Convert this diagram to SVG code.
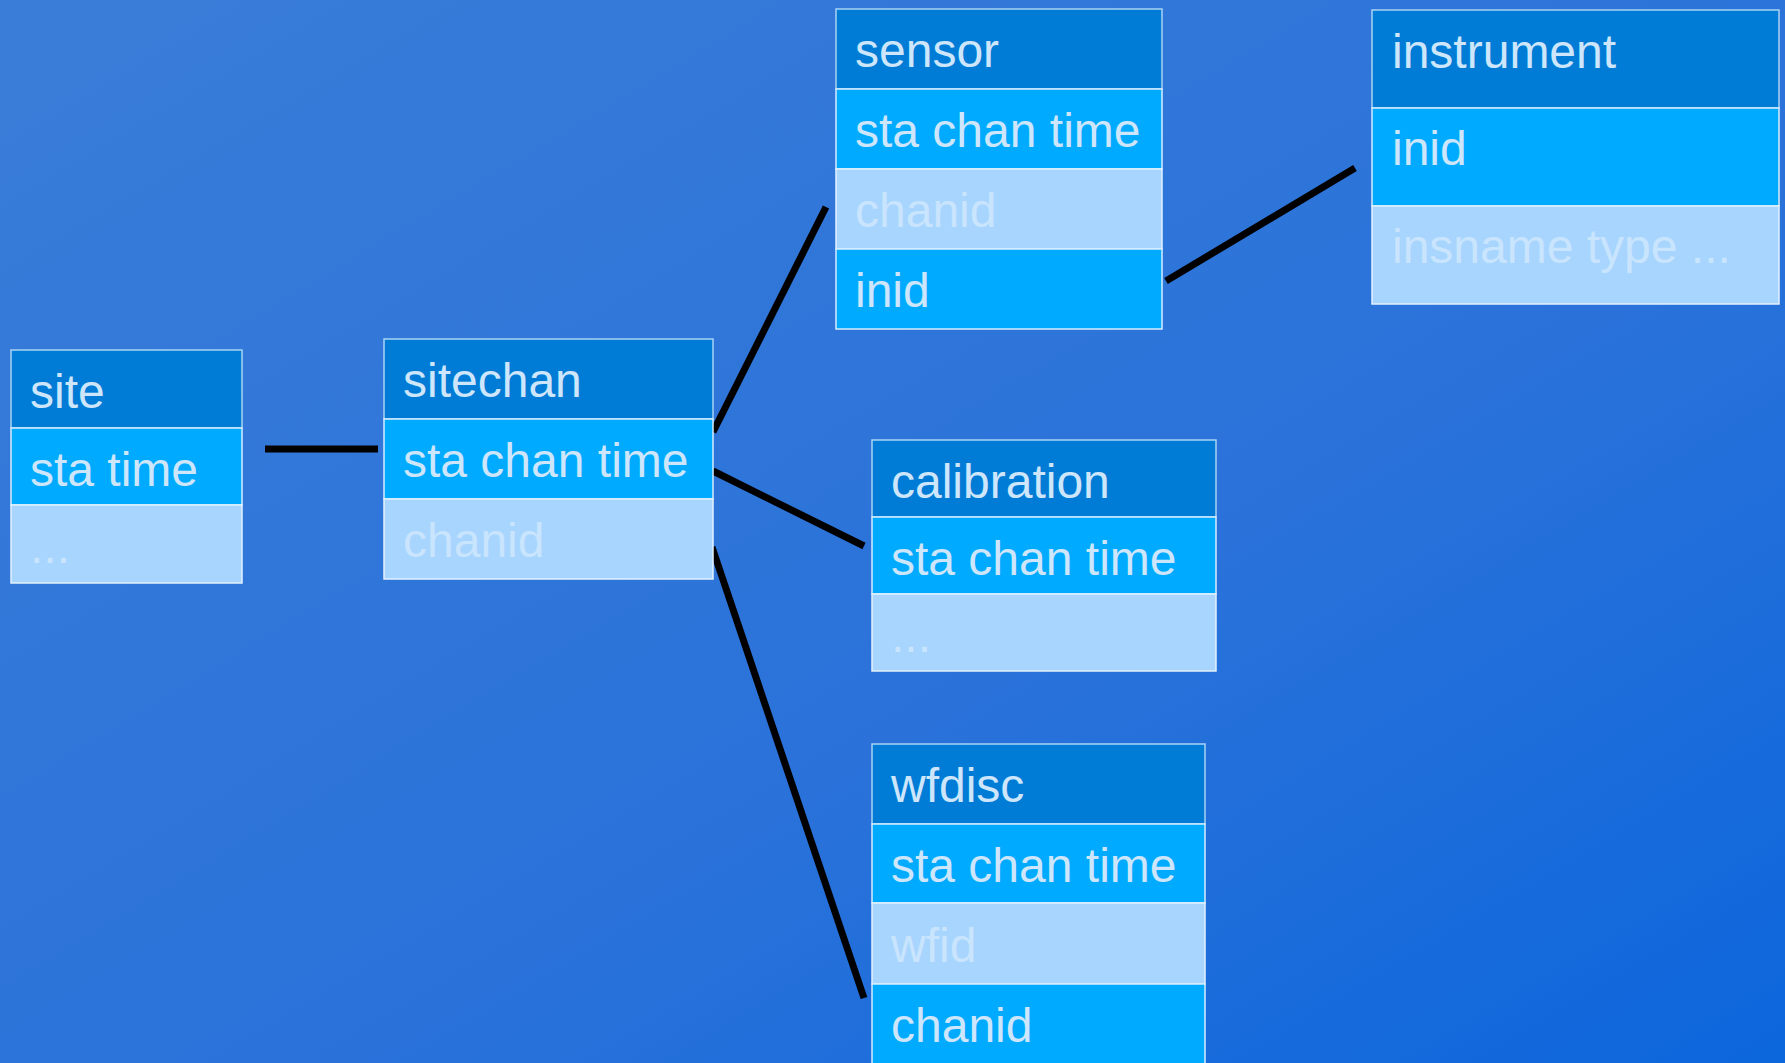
<svg xmlns="http://www.w3.org/2000/svg" width="1785" height="1063" viewBox="0 0 1785 1063">
  <defs>
    <linearGradient id="bg" x1="0" y1="0" x2="1" y2="1">
      <stop offset="0" stop-color="#3a7dd8"/>
      <stop offset="0.6" stop-color="#2a72da"/>
      <stop offset="1" stop-color="#0c66dc"/>
    </linearGradient>
    <style>
      .hdr { fill: #007cd6; stroke: #a9d2f5; stroke-width: 1.5; }
      .key { fill: #00aaff; stroke: #d6ecff; stroke-width: 1.5; }
      .att { fill: #a8d5fd; stroke: #e2f1ff; stroke-width: 1.5; }
      text { font-family: "Liberation Sans", Arial, sans-serif; font-size: 48px; fill: #cde6fb; }
      .faint { fill: #c9e4fd; }
      .link { stroke: #000; stroke-width: 7; fill: none; }
    </style>
  </defs>

  <rect x="0" y="0" width="1785" height="1063" fill="url(#bg)"/>

  <!-- relationship lines -->
  <g id="connectors">
    <line class="link" x1="265" y1="449" x2="378" y2="449"/>
    <line class="link" x1="713" y1="432" x2="826" y2="207"/>
    <line class="link" x1="713" y1="471" x2="864" y2="546"/>
    <line class="link" x1="712" y1="547" x2="864" y2="998"/>
    <line class="link" x1="1166" y1="281" x2="1355" y2="168"/>
  </g>

  <g id="site">
    <rect class="hdr" x="11" y="350" width="231" height="78"/>
    <rect class="key" x="11" y="428" width="231" height="77"/>
    <rect class="att" x="11" y="505" width="231" height="78"/>
    <text x="30" y="408">site</text>
    <text x="30" y="486">sta time</text>
    <text class="faint" x="30" y="563">...</text>
  </g>

  <g id="sitechan">
    <rect class="hdr" x="384" y="339" width="329" height="80"/>
    <rect class="key" x="384" y="419" width="329" height="80"/>
    <rect class="att" x="384" y="499" width="329" height="80"/>
    <text x="403" y="397">sitechan</text>
    <text x="403" y="477">sta chan time</text>
    <text class="faint" x="403" y="557">chanid</text>
  </g>

  <g id="sensor">
    <rect class="hdr" x="836" y="9" width="326" height="80"/>
    <rect class="key" x="836" y="89" width="326" height="80"/>
    <rect class="att" x="836" y="169" width="326" height="80"/>
    <rect class="key" x="836" y="249" width="326" height="80"/>
    <text x="855" y="67">sensor</text>
    <text x="855" y="147">sta chan time</text>
    <text class="faint" x="855" y="227">chanid</text>
    <text x="855" y="307">inid</text>
  </g>

  <g id="instrument">
    <rect class="hdr" x="1372" y="10" width="407" height="98"/>
    <rect class="key" x="1372" y="108" width="407" height="98"/>
    <rect class="att" x="1372" y="206" width="407" height="98"/>
    <text x="1392" y="68">instrument</text>
    <text x="1392" y="165">inid</text>
    <text class="faint" x="1392" y="263">insname type ...</text>
  </g>

  <g id="calibration">
    <rect class="hdr" x="872" y="440" width="344" height="77"/>
    <rect class="key" x="872" y="517" width="344" height="77"/>
    <rect class="att" x="872" y="594" width="344" height="77"/>
    <text x="891" y="498">calibration</text>
    <text x="891" y="575">sta chan time</text>
    <text class="faint" x="891" y="652">...</text>
  </g>

  <g id="wfdisc">
    <rect class="hdr" x="872" y="744" width="333" height="80"/>
    <rect class="key" x="872" y="824" width="333" height="79"/>
    <rect class="att" x="872" y="903" width="333" height="81"/>
    <rect class="key" x="872" y="984" width="333" height="82"/>
    <text x="891" y="802">wfdisc</text>
    <text x="891" y="882">sta chan time</text>
    <text class="faint" x="891" y="962">wfid</text>
    <text x="891" y="1042">chanid</text>
  </g>
</svg>
